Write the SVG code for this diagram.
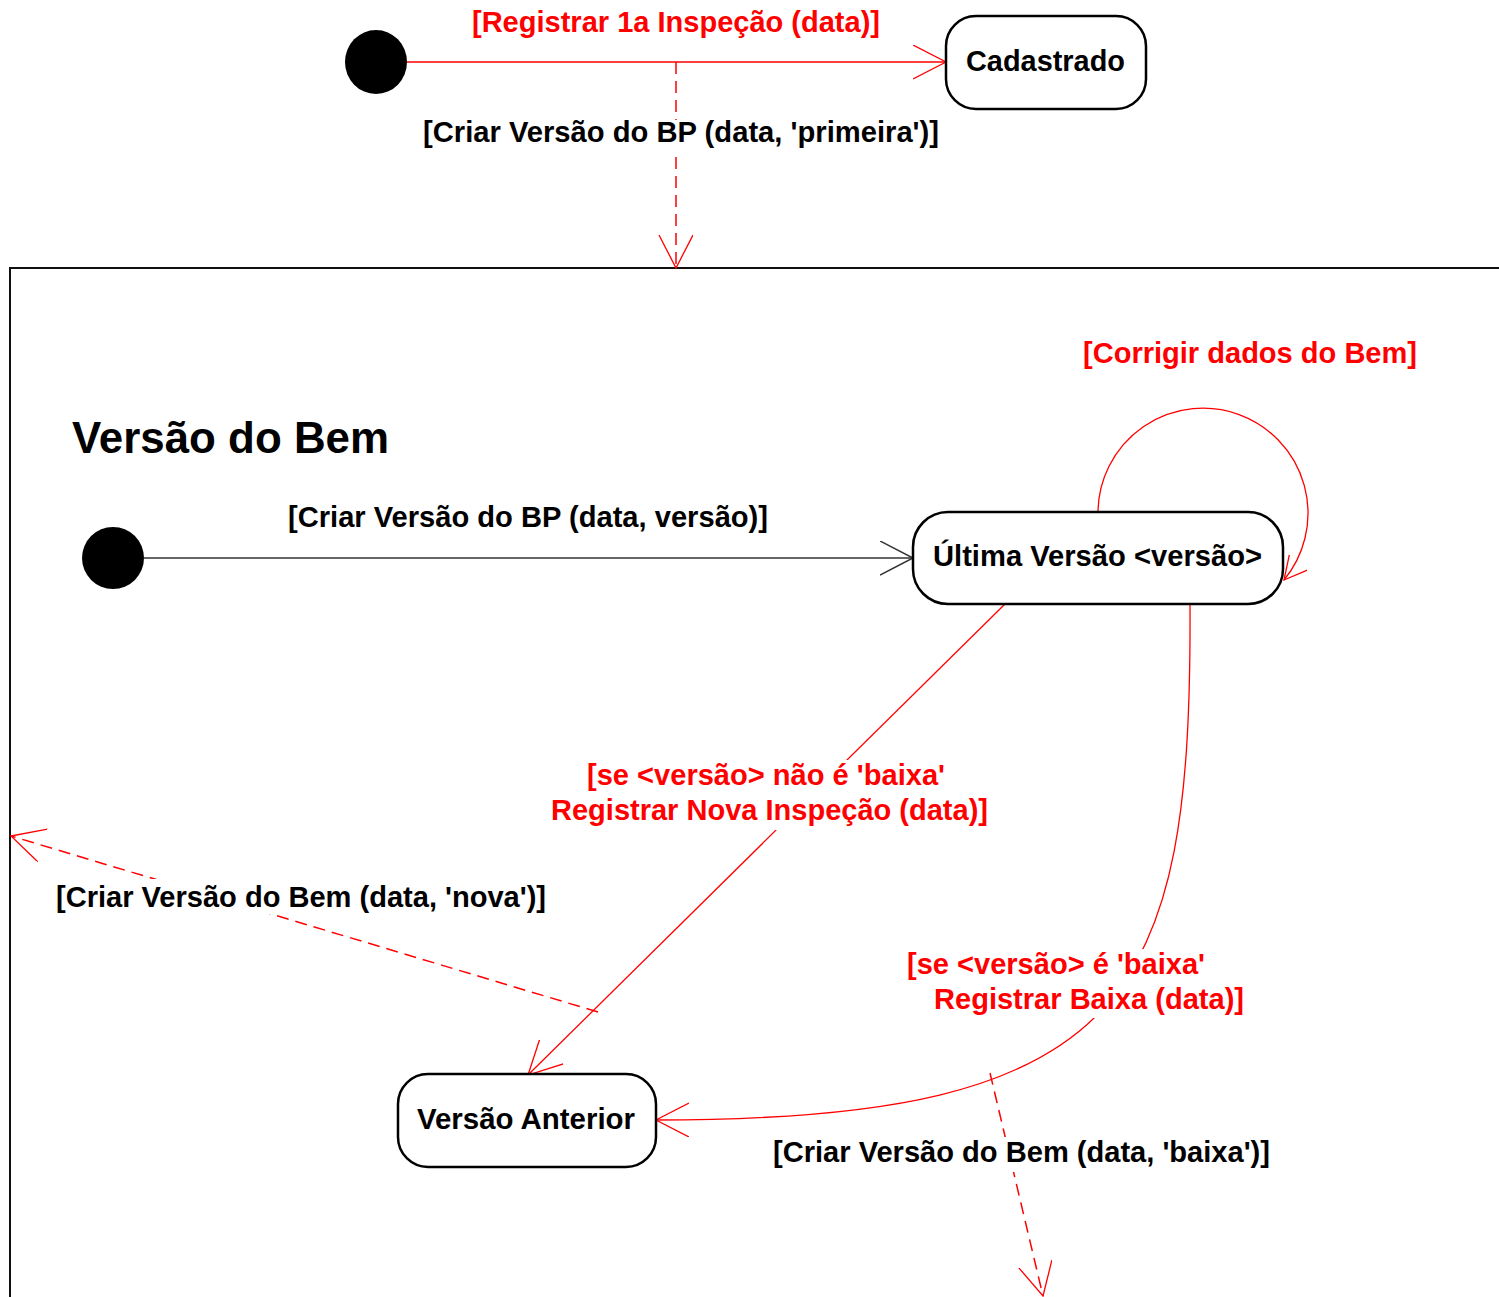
<svg xmlns="http://www.w3.org/2000/svg" width="1499" height="1297" viewBox="0 0 1499 1297">
<style>
text{font-family:"Liberation Sans",Arial,sans-serif;font-weight:bold;font-size:29px;fill:#000}
.r{fill:#ff0000}
.box{fill:#fff;stroke:#000;stroke-width:2.5}
.ln{fill:none;stroke:#ff0000;stroke-width:1.3}
.dash{fill:none;stroke:#ff0000;stroke-width:1.5;stroke-dasharray:12 7}
.bg{fill:#fff}
</style>
<defs>
<marker id="ar" markerUnits="userSpaceOnUse" markerWidth="40" markerHeight="40" refX="33" refY="17" orient="auto">
<path d="M0,0 L33,17 L0,34" fill="none" stroke="#ff0000" stroke-width="1.3"/>
</marker>
<marker id="as" markerUnits="userSpaceOnUse" markerWidth="30" markerHeight="30" refX="23" refY="12" orient="auto">
<path d="M0,0 L23,12 L0,24" fill="none" stroke="#ff0000" stroke-width="1.3"/>
</marker>
<marker id="ak" markerUnits="userSpaceOnUse" markerWidth="40" markerHeight="40" refX="33" refY="17" orient="auto">
<path d="M0,0 L33,17 L0,34" fill="none" stroke="#333" stroke-width="1.5"/>
</marker>
</defs>
<rect width="1499" height="1297" fill="#fff"/>
<g id="frame">
<path d="M1499,268 H10 V1297" fill="none" stroke="#111" stroke-width="2"/>
<text x="72" y="453" style="font-size:43.5px" textLength="317" lengthAdjust="spacingAndGlyphs">Versão do Bem</text>
</g>
<g id="connectors">
<line class="ln" x1="407" y1="62" x2="946" y2="62" marker-end="url(#ar)"/>
<line class="dash" x1="676" y1="62" x2="676" y2="268" marker-end="url(#ar)"/>
<line x1="144" y1="558" x2="913" y2="558" fill="none" stroke="#333" stroke-width="1.5" marker-end="url(#ak)"/>
<path class="ln" d="M1098,512 A105,105 0 1 1 1284,580" marker-end="url(#as)"/>
<line class="ln" x1="1005" y1="604" x2="528" y2="1075" marker-end="url(#ar)"/>
<path class="ln" d="M1190,604 C1192,1000 1130,1120 656,1120" marker-end="url(#ar)"/>
<line class="dash" x1="598" y1="1012" x2="11" y2="836" marker-end="url(#ar)"/>
<line class="dash" x1="990" y1="1073" x2="1043" y2="1296" marker-end="url(#ar)"/>
<g id="labels">
<text class="r" x="472" y="32" textLength="408" lengthAdjust="spacingAndGlyphs">[Registrar 1a Inspeção (data)]</text>
<rect class="bg" x="420" y="120" width="522" height="33"/>
<text x="423" y="142" textLength="516" lengthAdjust="spacingAndGlyphs">[Criar Versão do BP (data, 'primeira')]</text>
<text class="r" x="1083" y="363" textLength="334" lengthAdjust="spacingAndGlyphs">[Corrigir dados do Bem]</text>
<text x="288" y="527" textLength="480" lengthAdjust="spacingAndGlyphs">[Criar Versão do BP (data, versão)]</text>
<rect class="bg" x="549" y="760" width="441" height="70"/>
<text class="r" x="587" y="785" textLength="358" lengthAdjust="spacingAndGlyphs">[se &lt;versão&gt; não é 'baixa'</text>
<text class="r" x="551" y="820" textLength="437" lengthAdjust="spacingAndGlyphs">Registrar Nova Inspeção (data)]</text>
<rect class="bg" x="54" y="879" width="494" height="35"/>
<text x="56" y="907" textLength="490" lengthAdjust="spacingAndGlyphs">[Criar Versão do Bem (data, 'nova')]</text>
<rect class="bg" x="905" y="949" width="368" height="69"/>
<text class="r" x="907" y="974" textLength="298" lengthAdjust="spacingAndGlyphs">[se &lt;versão&gt; é 'baixa'</text>
<text class="r" x="934" y="1009" textLength="310" lengthAdjust="spacingAndGlyphs">Registrar Baixa (data)]</text>
<rect class="bg" x="770" y="1137" width="503" height="35"/>
<text x="773" y="1162" textLength="497" lengthAdjust="spacingAndGlyphs">[Criar Versão do Bem (data, 'baixa')]</text>
</g>
</g>
<g id="initial-top"><ellipse cx="376" cy="62" rx="31" ry="32" fill="#000"/></g>
<g id="cadastrado">
<rect class="box" x="946" y="16" width="200" height="93" rx="30"/>
<text x="966" y="71" textLength="159" lengthAdjust="spacingAndGlyphs">Cadastrado</text>
</g>
<g id="initial-inner"><circle cx="113" cy="558" r="31" fill="#000"/></g>
<g id="ultima-versao">
<rect class="box" x="913" y="512" width="370" height="92" rx="35"/>
<text x="933" y="566" textLength="329" lengthAdjust="spacingAndGlyphs">Última Versão &lt;versão&gt;</text>
</g>
<g id="versao-anterior">
<rect class="box" x="398" y="1074" width="258" height="93" rx="30"/>
<text x="417" y="1129" textLength="218" lengthAdjust="spacingAndGlyphs">Versão Anterior</text>
</g>
</svg>
